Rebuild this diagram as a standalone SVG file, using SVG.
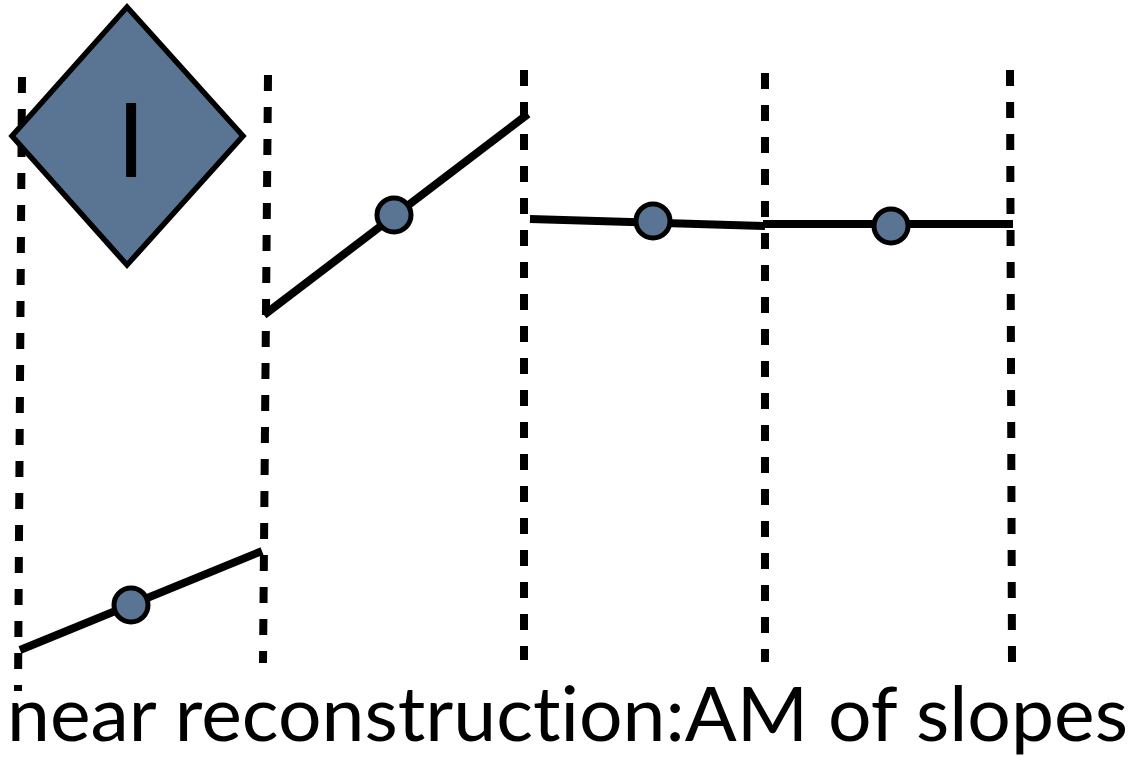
<svg xmlns="http://www.w3.org/2000/svg" width="1141" height="762" viewBox="0 0 1141 762">
  <style>
    .grid { stroke: #000; stroke-width: 8; stroke-dasharray: 16 16; fill: none; }
    .seg { stroke: #000; stroke-width: 8; stroke-linecap: butt; fill: none; }
    .pt { fill: #5a7594; stroke: #000; stroke-width: 5; }
    .label { font-family: "Lato", "Liberation Sans", sans-serif; fill: #000; font-variant-ligatures: none; font-feature-settings: "liga" 0, "clig" 0; }
  </style>
  <rect width="1141" height="762" fill="#fff"/>

  <!-- cell boundaries -->
  <g id="boundaries">
    <line class="grid" x1="22" y1="77" x2="18" y2="691"/>
    <line class="grid" x1="268" y1="75" x2="263" y2="663"/>
    <line class="grid" x1="524" y1="70" x2="524" y2="660"/>
    <line class="grid" x1="765" y1="73" x2="765" y2="662"/>
    <line class="grid" x1="1010" y1="70" x2="1012" y2="662"/>
  </g>

  <!-- index marker -->
  <g id="marker">
    <polygon points="127,7 243,136 127,265 12,136" fill="#5a7594" stroke="#000" stroke-width="5.5" stroke-linejoin="miter"/>
    <text x="131" y="177" text-anchor="middle" font-family="Liberation Sans, sans-serif" font-size="107">I</text>
  </g>

  <!-- piecewise linear segments -->
  <g id="connectors">
    <line class="seg" x1="20" y1="650" x2="262" y2="551"/>
    <line class="seg" x1="264" y1="315" x2="528" y2="114"/>
    <line class="seg" x1="530" y1="219" x2="765" y2="226"/>
    <line class="seg" x1="763" y1="224" x2="1013" y2="224"/>
  </g>

  <!-- cell averages -->
  <g id="point-1"><circle class="pt" cx="131" cy="605" r="17"/></g>
  <g id="point-2"><circle class="pt" cx="394" cy="215" r="17"/></g>
  <g id="point-3"><circle class="pt" cx="653" cy="221" r="17"/></g>
  <g id="point-4"><circle class="pt" cx="891" cy="226" r="17"/></g>

  <g id="caption">
    <text class="label" x="7" y="741" font-size="76" textLength="1121" lengthAdjust="spacingAndGlyphs">near reconstruction:AM of slopes</text>
  </g>
</svg>
